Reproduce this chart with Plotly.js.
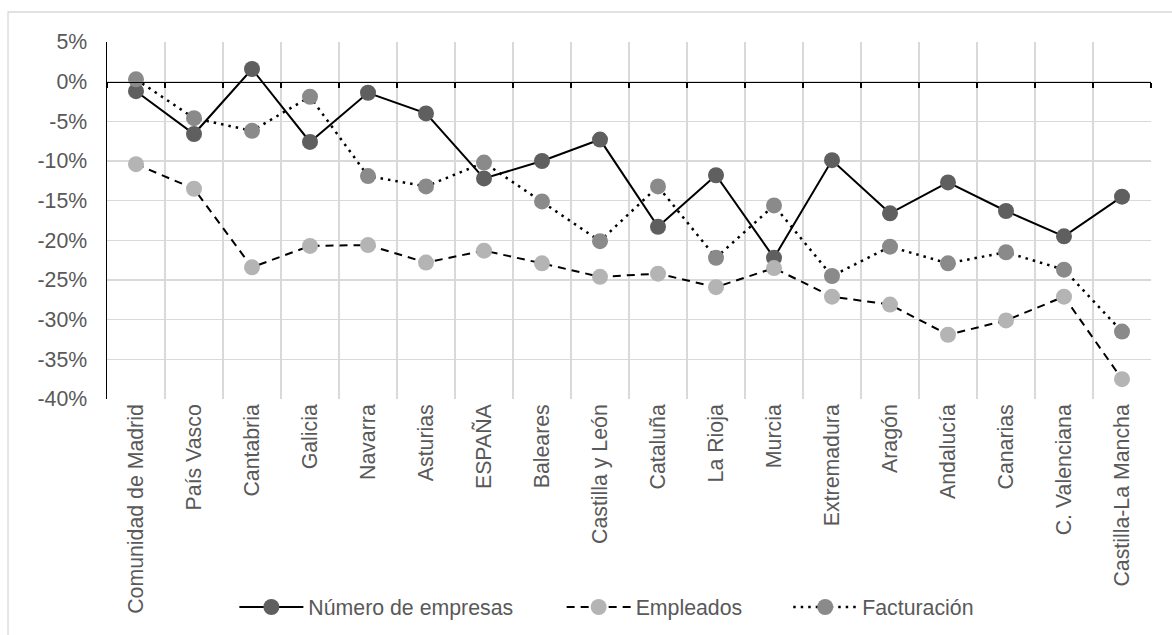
<!DOCTYPE html>
<html>
<head>
<meta charset="utf-8">
<script src="https://cdn.plot.ly/plotly-3.0.1.min.js"></script>
<style>html,body{margin:0;padding:0;background:#fff;}#chart{width:1172px;height:635px;}</style>
</head>
<body>
<div id="chart"></div>
<script>
const categories = ["Comunidad de Madrid","País Vasco","Cantabria","Galicia","Navarra","Asturias","ESPAÑA","Baleares","Castilla y León","Cataluña","La Rioja","Murcia","Extremadura","Aragón","Andalucía","Canarias","C. Valenciana","Castilla-La Mancha"];
const numeroEmpresas = [-1.2,-6.6,1.6,-7.6,-1.4,-4.0,-12.2,-10.0,-7.3,-18.3,-11.8,-22.2,-9.9,-16.6,-12.7,-16.3,-19.5,-14.5];
const empleados = [-10.4,-13.5,-23.4,-20.7,-20.6,-22.8,-21.3,-22.9,-24.6,-24.2,-25.9,-23.5,-27.1,-28.1,-31.9,-30.1,-27.1,-37.5];
const facturacion = [0.3,-4.6,-6.2,-1.9,-11.9,-13.2,-10.2,-15.1,-20.1,-13.2,-22.2,-15.6,-24.5,-20.8,-22.9,-21.5,-23.7,-31.5];
const yTicks = [5,0,-5,-10,-15,-20,-25,-30,-35,-40];

const FONT = "Liberation Sans, Arial, sans-serif";
const TXT = "#595959";
const FS = 21.3;

const traces = [
  {name:"Número de empresas", x:categories, y:numeroEmpresas, type:"scatter", mode:"lines+markers", legend:"legend",
   line:{color:"#000000", width:2}, marker:{color:"#5f5f5f", size:16}},
  {name:"Empleados", x:categories, y:empleados, type:"scatter", mode:"lines+markers", legend:"legend2",
   line:{color:"#000000", width:2, dash:"8px,6px"}, marker:{color:"#b4b4b4", size:16}},
  {name:"Facturación", x:categories, y:facturacion, type:"scatter", mode:"lines+markers", legend:"legend3",
   line:{color:"#000000", width:2.5, dash:"2.5px,5px"}, marker:{color:"#8a8a8a", size:16}},
  {x:categories, y:numeroEmpresas, xaxis:"x2", type:"scatter", mode:"none", showlegend:false, hoverinfo:"skip"}
];

function leg(x) {
  return {orientation:"h", x:x, xanchor:"left", y:-0.583, yanchor:"middle", bgcolor:"rgba(0,0,0,0)",
          font:{family:FONT, size:FS, color:TXT}, itemwidth:64};
}

const layout = {
  width:1172, height:635,
  margin:{l:107, r:21, t:42, b:236, autoexpand:false},
  paper_bgcolor:"#ffffff", plot_bgcolor:"#ffffff",
  font:{family:FONT, color:TXT, size:FS},
  showlegend:true,
  legend:leg(0.122),
  legend2:leg(0.4355),
  legend3:leg(0.6525),
  xaxis:{type:"category", tickson:"boundaries", showgrid:true, gridcolor:"#d9d9d9", gridwidth:1.3,
         ticks:"", showline:false, zeroline:false, tickangle:-90, automargin:false,
         tickfont:{family:FONT, size:FS, color:TXT}, range:[-0.5,17.5]},
  xaxis2:{type:"category", overlaying:"x", anchor:"free", position:40/45, side:"bottom",
          tickson:"boundaries", ticks:"outside", ticklen:5, tickwidth:1.3, tickcolor:"#000000",
          showticklabels:false, showgrid:false, showline:true, linecolor:"#000000", linewidth:1.5,
          zeroline:false, range:[-0.5,17.5]},
  yaxis:{range:[-40,5], tickvals:yTicks, ticktext:yTicks.map(v=>v+"%"), showgrid:true, gridcolor:"#d9d9d9", gridwidth:1.3,
         zeroline:false, showline:true, linecolor:"#000000", linewidth:1.5, ticks:"", ticklabelstandoff:14, automargin:false,
         tickfont:{family:FONT, size:FS, color:TXT}},
  shapes:[{type:"rect", xref:"paper", yref:"paper", x0:-0.0948, x1:1.03, y0:-0.7, y1:1.084,
           line:{color:"#d9d9d9", width:1.3}, fillcolor:"rgba(0,0,0,0)", layer:"below"}]
};

Plotly.newPlot("chart", traces, layout, {displayModeBar:false, staticPlot:true});
</script>
</body>
</html>
